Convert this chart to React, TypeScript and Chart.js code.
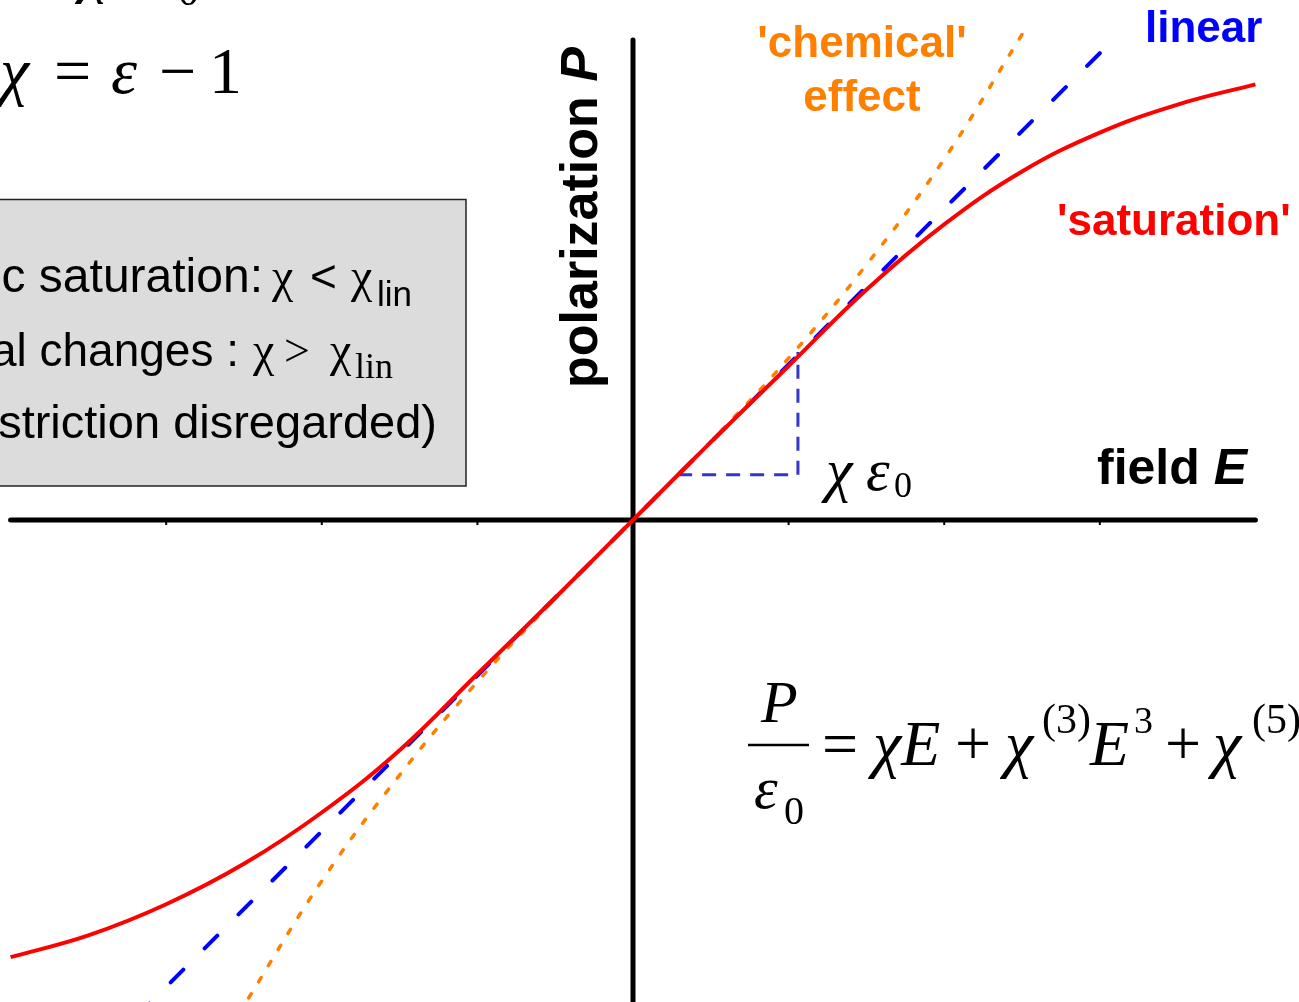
import React, { useEffect, useRef } from "react";
import { Chart, registerables } from "chart.js";

Chart.register(...registerables);

// ---- data (field E, polarization P; same units on both axes) ----
const satField = [-4.0, -3.5, -3.0, -2.5, -2.0, -1.5, -1.0, -0.5, 0, 0.5, 1.0, 1.5, 2.0, 2.5, 3.0, 3.5, 4.0];
const satPol = [-2.81, -2.67, -2.47, -2.21, -1.88, -1.48, -0.99, -0.5, 0, 0.5, 0.99, 1.48, 1.9, 2.24, 2.49, 2.67, 2.8];

const linField = [3.0, -3.25];
const linPol = [3.0, -3.25];

const chemField = [2.5, 2.0, 1.5, 1.0, 0.5, 0, -0.5, -1.0, -1.5, -2.0, -2.5];
const chemPol = [3.12, 2.32, 1.64, 1.04, 0.505, 0, -0.505, -1.04, -1.64, -2.32, -3.12];

const triField = [0.29, 1.06, 1.06];
const triPol = [0.29, 0.29, 1.08];

const axisFieldRange = [-4.0, 4.0];
const axisPolRange = [3.085, -3.25];
const tickValues = [-3, -2, -1, 1, 2, 3];

const viewField = [-4.068, 4.28];
const viewPol = [-3.098, 3.342];

const SANS = '"Liberation Sans", Arial, sans-serif';
const SERIF = '"Liberation Serif", "Times New Roman", serif';

const pts = (xs: number[], ys: number[]) => xs.map((x, i) => ({ x, y: ys[i] }));

function t(ctx: CanvasRenderingContext2D, s: string, x: number, y: number, font: string, color = "#000", align: CanvasTextAlign = "left") {
  ctx.font = font;
  ctx.fillStyle = color;
  ctx.textAlign = align;
  ctx.textBaseline = "alphabetic";
  ctx.fillText(s, x, y);
}

const decoPlugin = {
  id: "deco",
  beforeDatasetsDraw(chart: any) {
    const ctx: CanvasRenderingContext2D = chart.ctx;
    const xs = chart.scales.x;
    const ys = chart.scales.y;
    const y0 = ys.getPixelForValue(0);
    ctx.save();
    ctx.strokeStyle = "#000";
    ctx.lineWidth = 2;
    tickValues.forEach((v) => {
      const px = xs.getPixelForValue(v);
      ctx.beginPath();
      ctx.moveTo(px, y0);
      ctx.lineTo(px, y0 + 5);
      ctx.stroke();
    });
    ctx.restore();
  },
  afterDraw(chart: any) {
    const ctx: CanvasRenderingContext2D = chart.ctx;
    ctx.save();

    // partially visible formula at very top
    t(ctx, "χ", 80, -10, `italic 64px ${SERIF}`);
    t(ctx, "ε", 145, -10, `italic 64px ${SERIF}`);
    t(ctx, "0", 178, 5, `42px ${SERIF}`);

    // chi = eps - 1
    t(ctx, "χ", 0, 93, `italic 66px ${SERIF}`);
    t(ctx, "=", 54, 93, `66px ${SERIF}`);
    t(ctx, "ε", 111, 93, `italic 66px ${SERIF}`);
    t(ctx, "−", 159, 93, `66px ${SERIF}`);
    t(ctx, "1", 209, 93, `66px ${SERIF}`);

    // gray box
    ctx.fillStyle = "#dcdcdc";
    ctx.fillRect(-5, 199, 471, 287);
    ctx.strokeStyle = "#222";
    ctx.lineWidth = 1.5;
    ctx.strokeRect(-5, 199.5, 471, 286.5);

    t(ctx, "c saturation:", 263, 292, `48px ${SANS}`, "#000", "right");
    t(ctx, "χ", 272, 292, `48px ${SERIF}`);
    t(ctx, "<", 310, 292, `46px ${SANS}`);
    t(ctx, "χ", 351, 292, `48px ${SERIF}`);
    t(ctx, "lin", 377, 306, `35px ${SANS}`);

    t(ctx, "al changes :", 239, 366, `46px ${SANS}`, "#000", "right");
    t(ctx, "χ", 253, 366, `48px ${SERIF}`);
    t(ctx, ">", 284, 366, `46px ${SERIF}`);
    t(ctx, "χ", 330, 366, `48px ${SERIF}`);
    t(ctx, "lin", 355, 378, `36px ${SERIF}`);

    t(ctx, "striction disregarded)", 437, 438, `47px ${SANS}`, "#000", "right");

    // labels
    t(ctx, "'chemical'", 862, 57, `bold 44px ${SANS}`, "#ff8000", "center");
    t(ctx, "effect", 862, 111, `bold 44px ${SANS}`, "#ff8000", "center");
    t(ctx, "linear", 1145, 42, `bold 44px ${SANS}`, "#0000ff");
    t(ctx, "'saturation'", 1057, 235, `bold 44px ${SANS}`, "#ff0000");

    // field E
    ctx.font = `bold 50px ${SANS}`;
    const fw = ctx.measureText("field ").width;
    t(ctx, "field ", 1097, 484, `bold 50px ${SANS}`);
    t(ctx, "E", 1097 + fw, 484, `italic bold 50px ${SANS}`);

    // polarization P (vertical)
    ctx.save();
    ctx.translate(597, 388);
    ctx.rotate(-Math.PI / 2);
    ctx.font = `bold 52px ${SANS}`;
    const pw = ctx.measureText("polarization ").width;
    t(ctx, "polarization ", 0, 0, `bold 52px ${SANS}`);
    t(ctx, "P", pw, 0, `italic bold 52px ${SANS}`);
    ctx.restore();

    // chi eps0 at slope triangle
    t(ctx, "χ", 826, 490, `italic 60px ${SERIF}`);
    t(ctx, "ε", 866, 490, `italic 60px ${SERIF}`);
    t(ctx, "0", 894, 497, `36px ${SERIF}`);

    // big equation
    t(ctx, "P", 761, 722, `italic 60px ${SERIF}`);
    ctx.strokeStyle = "#000";
    ctx.lineWidth = 2.5;
    ctx.beginPath();
    ctx.moveTo(748, 745);
    ctx.lineTo(809, 745);
    ctx.stroke();
    t(ctx, "ε", 754, 808, `italic 60px ${SERIF}`);
    t(ctx, "0", 784, 824, `40px ${SERIF}`);
    t(ctx, "=", 822, 765, `64px ${SERIF}`);
    t(ctx, "χE", 873, 765, `italic 64px ${SERIF}`);
    t(ctx, "+", 955, 765, `64px ${SERIF}`);
    t(ctx, "χ", 1005, 765, `italic 64px ${SERIF}`);
    t(ctx, "(3)", 1042, 733, `42px ${SERIF}`);
    t(ctx, "E", 1090, 765, `italic 64px ${SERIF}`);
    t(ctx, "3", 1134, 733, `38px ${SERIF}`);
    t(ctx, "+", 1165, 765, `64px ${SERIF}`);
    t(ctx, "χ", 1213, 765, `italic 64px ${SERIF}`);
    t(ctx, "(5)", 1252, 733, `42px ${SERIF}`);

    ctx.restore();
  },
};

export default function App() {
  const ref = useRef<HTMLCanvasElement>(null);
  useEffect(() => {
    const chart = new Chart(ref.current as HTMLCanvasElement, {
      type: "line",
      data: {
        datasets: [
          {
            label: "saturation",
            data: pts(satField, satPol),
            borderColor: "#ff0000",
            borderWidth: 4,
            pointRadius: 0,
            tension: 0.4,
            fill: false,
          },
          {
            label: "chemical effect",
            data: pts(chemField, chemPol),
            borderColor: "#ff8000",
            borderWidth: 3.5,
            borderDash: [5, 14],
            borderCapStyle: "round",
            pointRadius: 0,
            tension: 0.4,
            fill: false,
          },
          {
            label: "linear",
            data: pts(linField, linPol),
            borderColor: "#0000ff",
            borderWidth: 4,
            borderDash: [18, 30],
            borderCapStyle: "round",
            pointRadius: 0,
            fill: false,
          },
          {
            label: "triangle",
            data: pts(triField, triPol),
            borderColor: "#3535c9",
            borderWidth: 3,
            borderDash: [14, 10],
            pointRadius: 0,
            tension: 0,
            fill: false,
          },
          {
            label: "E axis",
            data: pts(axisFieldRange, [0, 0]),
            borderColor: "#000",
            borderWidth: 5,
            borderCapStyle: "round",
            pointRadius: 0,
            fill: false,
          },
          {
            label: "P axis",
            data: pts([0, 0], axisPolRange),
            borderColor: "#000",
            borderWidth: 5,
            borderCapStyle: "round",
            pointRadius: 0,
            fill: false,
          },
        ],
      },
      options: {
        responsive: false,
        animation: false,
        devicePixelRatio: 1,
        layout: { padding: 0 },
        plugins: { legend: { display: false }, tooltip: { enabled: false } },
        scales: {
          x: { type: "linear", min: viewField[0], max: viewField[1], display: false },
          y: { type: "linear", min: viewPol[0], max: viewPol[1], display: false },
        },
      },
      plugins: [decoPlugin],
    } as any);
    return () => chart.destroy();
  }, []);
  return (
    <div style={{ position: "fixed", left: 0, top: 0, width: 1299, height: 1002, background: "#fff" }}>
      <canvas ref={ref} width={1299} height={1002} style={{ display: "block", width: 1299, height: 1002 }} />
    </div>
  );
}
